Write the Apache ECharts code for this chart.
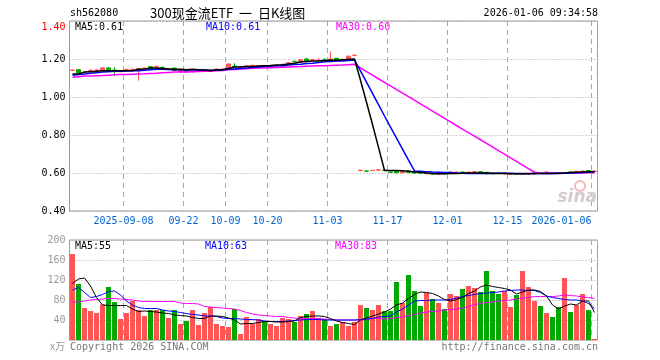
<!DOCTYPE html>
<html><head><meta charset="utf-8">
<script src="https://cdn.jsdelivr.net/npm/echarts@6/dist/echarts.min.js"></script>
<style>html,body{margin:0;padding:0;background:#fff}#c{width:660px;height:360px}</style>
</head><body><div id="c"></div>
<script>
// ---- data ----
const dates = [
'2025-08-26','2025-08-27','2025-08-28','2025-08-29',
'2025-09-01','2025-09-02','2025-09-03','2025-09-04','2025-09-05',
'2025-09-08','2025-09-09','2025-09-10','2025-09-11','2025-09-12',
'2025-09-15','2025-09-16','2025-09-17','2025-09-18','2025-09-19',
'2025-09-22','2025-09-23','2025-09-24','2025-09-25','2025-09-26',
'2025-09-29','2025-09-30',
'2025-10-09','2025-10-10',
'2025-10-13','2025-10-14','2025-10-15','2025-10-16','2025-10-17',
'2025-10-20','2025-10-21','2025-10-22','2025-10-23','2025-10-24',
'2025-10-27','2025-10-28','2025-10-29','2025-10-30','2025-10-31',
'2025-11-03','2025-11-04','2025-11-05','2025-11-06','2025-11-07',
'2025-11-10','2025-11-11','2025-11-12','2025-11-13','2025-11-14',
'2025-11-17','2025-11-18','2025-11-19','2025-11-20','2025-11-21',
'2025-11-24','2025-11-25','2025-11-26','2025-11-27','2025-11-28',
'2025-12-01','2025-12-02','2025-12-03','2025-12-04','2025-12-05',
'2025-12-08','2025-12-09','2025-12-10','2025-12-11','2025-12-12',
'2025-12-15','2025-12-16','2025-12-17','2025-12-18','2025-12-19',
'2025-12-22','2025-12-23','2025-12-24','2025-12-25','2025-12-26',
'2025-12-29','2025-12-30','2025-12-31',
'2026-01-05','2026-01-06'];

const openP = [
1.140,1.144,1.130,1.138,1.140,1.142,1.153,1.142,1.133,1.142,
1.144,1.142,1.143,1.160,1.158,1.155,1.144,1.152,1.132,1.142,
1.134,1.138,1.141,1.138,1.144,1.143,1.151,1.163,1.156,1.158,
1.160,1.160,1.166,1.162,1.164,1.165,1.178,1.188,1.184,1.200,
1.193,1.192,1.195,1.190,1.204,1.195,1.200,1.218,
0.613,0.611,0.613,0.616,0.615,0.605,0.610,0.601,0.611,0.605,
0.600,0.596,0.598,0.594,0.597,0.599,0.600,0.605,0.600,0.600,
0.607,0.604,0.599,0.599,0.596,0.594,0.596,0.594,0.595,0.595,
0.599,0.604,0.601,0.601,0.599,0.605,0.603,0.608,0.613,0.609];
const closeP = [
1.142,1.128,1.132,1.141,1.142,1.153,1.144,1.136,1.135,1.145,
1.146,1.150,1.152,1.150,1.160,1.152,1.146,1.139,1.144,1.132,
1.136,1.140,1.143,1.141,1.147,1.147,1.174,1.158,1.158,1.164,
1.167,1.164,1.159,1.166,1.166,1.172,1.180,1.186,1.196,1.187,
1.196,1.194,1.193,1.200,1.191,1.197,1.215,1.220,
0.615,0.609,0.614,0.617,0.613,0.603,0.601,0.609,0.602,0.600,
0.599,0.601,0.594,0.596,0.595,0.605,0.605,0.600,0.605,0.607,
0.600,0.596,0.596,0.598,0.600,0.597,0.594,0.596,0.596,0.597,
0.598,0.605,0.600,0.599,0.602,0.603,0.609,0.610,0.607,0.610];
const lowP = [
1.136,1.126,1.128,1.136,1.138,1.140,1.142,1.111,1.131,1.140,
1.142,1.086,1.141,1.148,1.156,1.148,1.142,1.137,1.130,1.130,
1.128,1.136,1.139,1.136,1.142,1.141,1.150,1.156,1.154,1.156,
1.158,1.158,1.157,1.160,1.160,1.163,1.176,1.183,1.182,1.185,
1.190,1.190,1.190,1.186,1.189,1.190,1.198,1.216,
0.609,0.607,0.612,0.609,0.611,0.601,0.599,0.600,0.600,0.598,
0.597,0.594,0.592,0.593,0.593,0.598,0.598,0.598,0.599,0.599,
0.599,0.594,0.594,0.596,0.594,0.592,0.592,0.592,0.593,0.593,
0.596,0.603,0.598,0.597,0.598,0.601,0.602,0.607,0.605,0.608];
const highP = [
1.146,1.147,1.136,1.145,1.146,1.155,1.157,1.156,1.139,1.149,
1.150,1.152,1.155,1.162,1.166,1.162,1.150,1.155,1.146,1.144,
1.142,1.143,1.146,1.146,1.150,1.149,1.175,1.177,1.161,1.166,
1.169,1.167,1.168,1.168,1.174,1.174,1.183,1.190,1.198,1.206,
1.199,1.206,1.204,1.240,1.206,1.203,1.217,1.224,
0.615,0.612,0.616,0.617,0.617,0.607,0.611,0.610,0.612,0.606,
0.602,0.602,0.599,0.598,0.598,0.606,0.606,0.608,0.606,0.609,
0.609,0.605,0.600,0.601,0.601,0.598,0.597,0.597,0.598,0.598,
0.601,0.607,0.603,0.602,0.603,0.608,0.610,0.612,0.615,0.612];

const volume = [
172,112,64,58,54,71,106,76,42,54,
78,60,48,60,60,60,44,60,32,38,
60,30,54,66,32,28,26,62,12,46,
32,42,38,32,28,44,42,36,48,52,
58,44,42,28,32,36,28,36,70,64,
60,70,58,58,116,74,130,98,68,94,
82,74,62,92,88,102,108,104,96,138,
98,92,98,66,90,138,106,78,68,54,
46,66,124,56,70,92,60,2];

const priceMA5 = [
1.121,1.121,1.131,1.133,1.135,1.138,1.138,1.138,1.138,1.138,
1.138,1.146,1.148,1.152,1.152,1.150,1.148,1.146,1.146,1.144,
1.146,1.144,1.142,1.140,1.142,1.144,1.150,1.158,1.158,1.160,
1.161,1.163,1.165,1.166,1.168,1.170,1.174,1.178,1.184,1.187,
1.190,1.190,1.192,1.193,1.194,1.196,1.198,1.200,
1.088,0.972,0.855,0.735,0.613,0.613,0.613,0.612,0.609,0.605,
0.604,0.600,0.597,0.596,0.596,0.597,0.598,0.599,0.600,0.600,
0.600,0.600,0.599,0.598,0.597,0.596,0.596,0.596,0.596,0.597,
0.598,0.598,0.598,0.599,0.600,0.602,0.604,0.605,0.606,0.607];
const priceMA10 = [
1.114,1.118,1.121,1.125,1.128,1.131,1.133,1.135,1.136,1.137,
1.138,1.138,1.141,1.144,1.146,1.146,1.145,1.144,1.143,1.142,
1.142,1.142,1.142,1.140,1.142,1.144,1.146,1.148,1.150,1.152,
1.155,1.158,1.160,1.162,1.164,1.165,1.168,1.171,1.173,1.176,
1.178,1.181,1.185,1.187,1.189,1.190,1.192,1.195,
1.137,1.078,1.019,0.960,0.900,0.842,0.784,0.726,0.668,0.611,
0.609,0.607,0.605,0.604,0.603,0.602,0.600,0.599,0.598,0.598,
0.598,0.598,0.598,0.599,0.599,0.599,0.598,0.598,0.598,0.598,
0.598,0.598,0.598,0.598,0.599,0.600,0.601,0.602,0.604,0.606];
const priceMA30 = [
1.104,1.106,1.110,1.111,1.112,1.113,1.115,1.117,1.118,1.119,
1.120,1.121,1.122,1.124,1.125,1.127,1.129,1.131,1.131,1.132,
1.133,1.134,1.135,1.136,1.138,1.140,1.143,1.145,1.147,1.149,
1.151,1.152,1.153,1.154,1.155,1.156,1.158,1.159,1.160,1.162,
1.163,1.164,1.165,1.166,1.167,1.168,1.170,1.172,
1.153,1.134,1.115,1.096,1.077,1.058,1.039,1.020,1.002,0.983,
0.964,0.945,0.926,0.907,0.888,0.869,0.850,0.831,0.812,0.794,
0.775,0.756,0.737,0.718,0.699,0.680,0.661,0.642,0.623,0.604,
0.600,0.600,0.600,0.600,0.600,0.600,0.600,0.600,0.601,0.601];

const volMA5 = [
113,122,124,108,85,70,69,69,69,69,
62,57,58,57,56,54,53,50,49,48,
45,43,43,48,48,47,44,40,32,33,
33,35,37,37,36,36,37,38,45,47,
48,48,47,43,38,35,33,31,40,44,
48,52,56,62,70,74,83,91,96,95,
93,88,81,78,81,85,93,98,106,110,
107,105,103,100,92,96,100,100,97,88,
70,62,68,72,70,78,78,55];
const volMA10 = [
100,105,95,85,87,91,97,98,90,78,
70,65,63,63,63,60,58,57,55,53,
51,50,48,48,47,44,43,43,42,41,
41,40,38,37,37,37,38,39,40,41,
41,41,40,40,40,40,40,40,41,42,
43,46,47,48,56,62,70,78,79,79,
80,80,80,81,84,87,89,91,93,94,
95,96,98,99,100,100,99,99,95,88,
85,83,81,80,80,78,73,63];
const volMA30 = [
75,76,78,80,81,82,83,83,82,81,
80,78,77,77,77,77,77,77,74,73,
73,72,67,66,65,64,63,62,59,55,
52,50,49,48,47,47,45,44,43,43,
43,43,42,41,40,40,40,40,40,41,
43,43,42,43,45,46,49,51,54,56,
57,58,60,61,62,64,67,71,73,75,
76,78,79,80,82,84,85,87,87,87,
87,88,90,89,88,86,85,83];

const tickDates  = ['2025-09-08','2025-09-22','2025-10-09','2025-10-20','2025-11-03','2025-11-17','2025-12-01','2025-12-15','2026-01-06'];
const tickLabels = ['2025-09-08','09-22','10-09','10-20','11-03','11-17','12-01','12-15','2026-01-06'];

// ---- chart ----
const upC = '#ff5555', downC = '#00a800';
const mono = 'DejaVu Sans Mono';
const candle = dates.map((d, i) => [openP[i], closeP[i], lowP[i], highP[i]]);
const volData = volume.map((v, i) => ({ value: v, itemStyle: { color: closeP[i] >= openP[i] ? upC : downC } }));
const isTick = (idx) => tickDates.indexOf(dates[idx]) >= 0;
const last = dates.length - 1;

function txt(x, y, s, fill, font, align) {
  return { type: 'text', x: x, y: y, silent: true, z: 100,
    style: { text: s, fill: fill, font: font || ('10px ' + mono),
      textAlign: align || 'left', align: align || 'left',
      textVerticalAlign: 'middle', verticalAlign: 'middle' } };
}

const xAxisCommon = (grid, showLabel) => ({
  type: 'category', gridIndex: grid, data: dates, boundaryGap: true,
  axisLine: { show: false }, axisTick: { show: false },
  axisLabel: showLabel ? {
    interval: (idx) => isTick(idx),
    formatter: (v) => {
      const k = tickDates.indexOf(v);
      if (k < 0) return '';
      return k === tickDates.length - 1 ? '{e|' + tickLabels[k] + '}' : '{a|' + tickLabels[k] + '}';
    },
    color: '#0066cc', fontFamily: mono, fontSize: 10, margin: 5,
    rich: {
      a: { color: '#0066cc', fontFamily: mono, fontSize: 10, padding: [0, 6, 0, 0] },
      e: { color: '#0066cc', fontFamily: mono, fontSize: 10, padding: [0, 66, 0, 0] }
    }
  } : { show: false },
  splitLine: { show: true, interval: (idx) => isTick(idx), lineStyle: { color: '#aaaaaa', width: 1, type: [5, 4] } }
});

const option = {
  animation: false,
  backgroundColor: '#ffffff',
  grid: [
    { left: 69.5, top: 21, width: 528, height: 190, show: true, borderColor: '#999999', borderWidth: 1, backgroundColor: 'transparent' },
    { left: 69.5, top: 240, width: 528, height: 100, show: true, borderColor: '#999999', borderWidth: 1, backgroundColor: 'transparent' }
  ],
  xAxis: [xAxisCommon(0, true), xAxisCommon(1, false)],
  yAxis: [
    { type: 'value', gridIndex: 0, min: 0.4, max: 1.4, interval: 0.2,
      axisLine: { show: false }, axisTick: { show: false },
      axisLabel: { color: '#000000', fontFamily: mono, fontSize: 10, margin: 4,
        formatter: (v) => { const s = v.toFixed(2); return Math.abs(v - 1.4) < 1e-6 ? '{t|' + s + '}' : s; },
        rich: { t: { color: '#ff0000', fontFamily: mono, fontSize: 10, padding: [12, 0, 0, 0] } } },
      splitLine: { show: true, lineStyle: { color: '#aaaaaa', width: 1, type: [1, 2] } } },
    { type: 'value', gridIndex: 1, min: 0, max: 200, interval: 40,
      axisLine: { show: false }, axisTick: { show: false },
      axisLabel: { color: '#999999', fontFamily: mono, fontSize: 10, margin: 4,
        formatter: (v) => v === 0 ? '' : String(v) },
      splitLine: { show: true, lineStyle: { color: '#aaaaaa', width: 1, type: [1, 2] } } }
  ],
  series: [
    { type: 'candlestick', xAxisIndex: 0, yAxisIndex: 0, data: candle, barWidth: 4,
      itemStyle: { color: upC, color0: downC, borderColor: upC, borderColor0: downC, borderWidth: 1 } },
    { type: 'line', xAxisIndex: 0, yAxisIndex: 0, data: priceMA30, symbol: 'none', lineStyle: { color: '#ff00ff', width: 1.5 } },
    { type: 'line', xAxisIndex: 0, yAxisIndex: 0, data: priceMA10, symbol: 'none', lineStyle: { color: '#0000ff', width: 1.5 } },
    { type: 'line', xAxisIndex: 0, yAxisIndex: 0, data: priceMA5, symbol: 'none', lineStyle: { color: '#000000', width: 1.5 } },
    { type: 'bar', xAxisIndex: 1, yAxisIndex: 1, data: volData, barWidth: 5 },
    { type: 'line', xAxisIndex: 1, yAxisIndex: 1, data: volMA30, symbol: 'none', lineStyle: { color: '#ff00ff', width: 1 } },
    { type: 'line', xAxisIndex: 1, yAxisIndex: 1, data: volMA10, symbol: 'none', lineStyle: { color: '#0000ff', width: 1 } },
    { type: 'line', xAxisIndex: 1, yAxisIndex: 1, data: volMA5, symbol: 'none', lineStyle: { color: '#000000', width: 1 } }
  ],
  graphic: [
    txt(70, 13, 'sh562080', '#000000'),
    txt(150, 13, '300现金流ETF  一  日K线图', '#000000', '13px "Noto Sans CJK SC"'),
    txt(598, 13, '2026-01-06 09:34:58', '#000000', '10px ' + mono, 'right'),
    txt(75, 27, 'MA5:' + priceMA5[last].toFixed(2), '#000000'),
    txt(206, 27, 'MA10:' + priceMA10[last].toFixed(2), '#0000ff'),
    txt(336, 27, 'MA30:' + priceMA30[last].toFixed(2), '#ff00ff'),
    txt(75, 246, 'MA5:' + volMA5[last], '#000000'),
    txt(205, 246, 'MA10:' + volMA10[last], '#0000ff'),
    txt(335, 246, 'MA30:' + volMA30[last], '#ff00ff'),
    txt(50, 346, 'x万', '#999999', '10px "Noto Sans CJK SC"'),
    txt(70, 347, 'Copyright 2026 SINA.COM', '#777777'),
    txt(598, 347, 'http://finance.sina.com.cn', '#777777', '10px ' + mono, 'right'),
    { type: 'circle', shape: { cx: 580, cy: 186, r: 5 }, silent: true, z: 1,
      style: { fill: 'none', stroke: '#f2b8b8', lineWidth: 2 } },
    txt(597, 198, 'sina', '#d2cccc', 'italic bold 17px "DejaVu Sans"', 'right')
  ]
};
const chart = echarts.init(document.getElementById('c'));
chart.setOption(option);
</script>
</body></html>
